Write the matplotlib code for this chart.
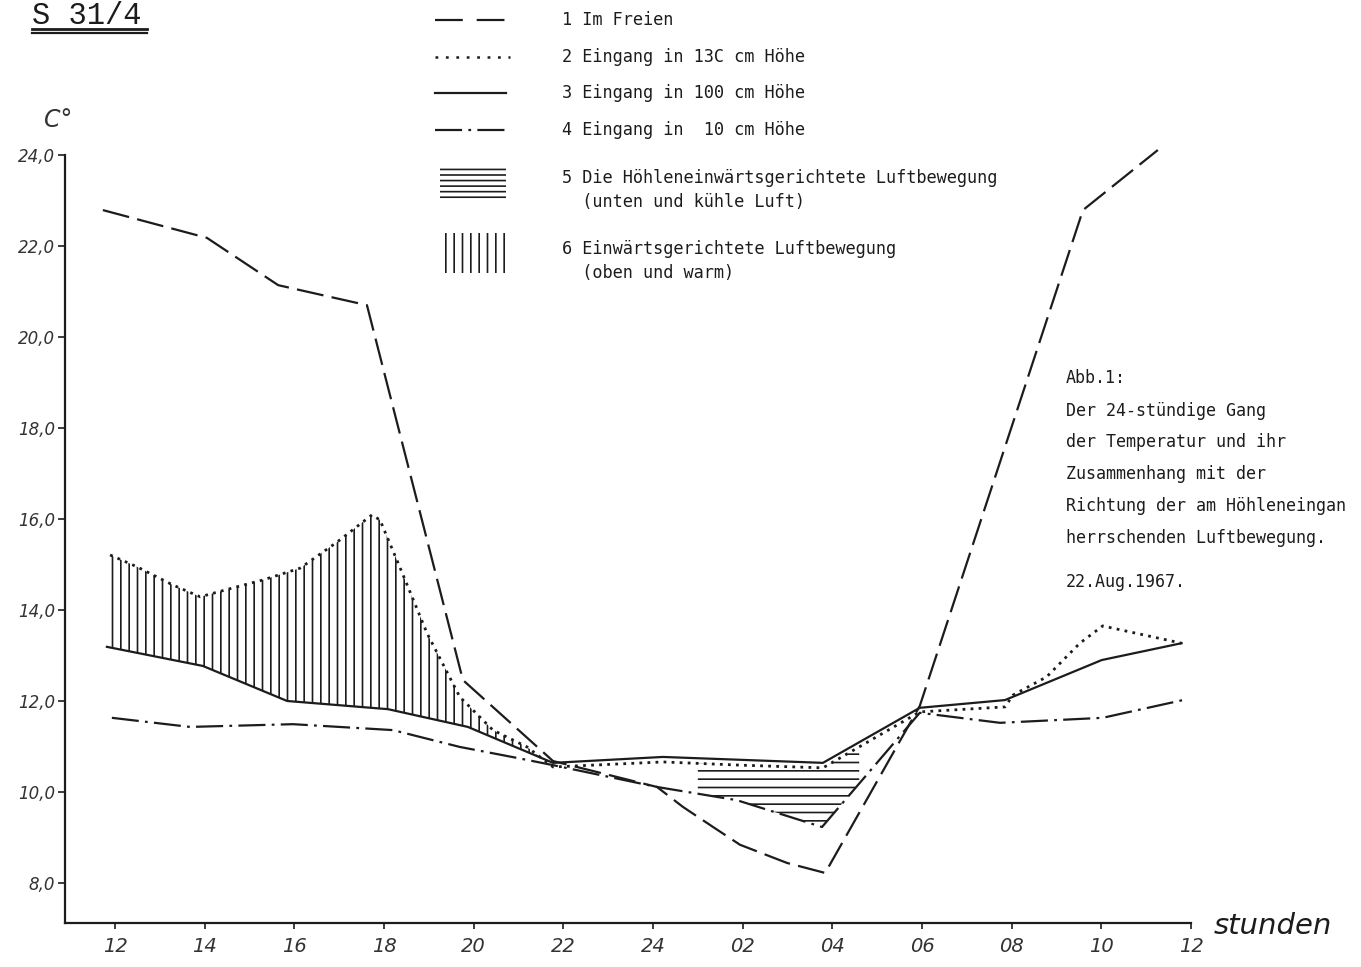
import numpy as np
import matplotlib
matplotlib.use("Agg")
import matplotlib.pyplot as plt
from matplotlib.patches import Rectangle

plt.rcParams['lines.scale_dashes'] = False
plt.rcParams['hatch.linewidth'] = 1.2

# ---------------- data (hours after 12:00 noon, temperature in °C) -------------
x_ticks_h = [0, 2, 4, 6, 8, 10, 12, 14, 16, 18, 20, 22, 24]
x_tick_labels = ["12", "14", "16", "18", "20", "22", "24", "02", "04", "06", "08", "10", "12"]
y_ticks = [8, 10, 12, 14, 16, 18, 20, 22, 24]
y_tick_labels = ["8,0", "10,0", "12,0", "14,0", "16,0", "18,0", "20,0", "22,0", "24,0"]

# 1 Im Freien
freien_h = [-0.27, 2.05, 3.64, 5.62, 7.76, 9.77, 12.09, 12.67, 13.34, 13.94, 14.99, 15.84, 17.95, 21.59, 23.26]
freien_t = [22.79, 22.18, 21.14, 20.70, 12.46, 10.68, 10.11, 9.67, 9.23, 8.84, 8.44, 8.22, 11.89, 22.79, 24.11]

# 2 Eingang in 130 cm Höhe
e130_h = [-0.11, 0.49, 1.29, 1.90, 2.72, 3.30, 4.13, 4.95, 5.73, 5.91, 6.35, 6.96, 7.69, 8.43, 9.19, 9.77,
          12.22, 13.94, 15.79, 17.95, 19.85, 20.03, 20.78, 21.52, 22.03, 22.63, 23.79]
e130_t = [15.21, 14.95, 14.55, 14.29, 14.51, 14.66, 14.92, 15.49, 16.09, 15.98, 14.95, 13.49, 12.09, 11.36, 10.99, 10.55,
          10.66, 10.59, 10.53, 11.76, 11.87, 12.13, 12.53, 13.27, 13.65, 13.52, 13.27]

# 3 Eingang in 100 cm Höhe
e100_h = [-0.18, 1.96, 3.84, 6.09, 7.87, 9.77, 12.22, 15.79, 17.95, 19.85, 22.01, 23.79]
e100_t = [13.19, 12.77, 12.00, 11.82, 11.43, 10.64, 10.77, 10.64, 11.85, 12.02, 12.90, 13.27]

# 4 Eingang in 10 cm Höhe
e10_h = [-0.07, 1.67, 3.97, 6.20, 7.69, 8.96, 9.77, 12.09, 13.87, 15.77, 17.95, 19.74, 22.03, 23.82]
e10_t = [11.63, 11.43, 11.49, 11.36, 10.99, 10.75, 10.59, 10.11, 9.82, 9.23, 11.74, 11.52, 11.63, 12.02]

# hatched periods (hours after noon)
warm_period = (-0.11, 9.77)   # 6: inward movement, upper and warm
cool_period = (13.0, 16.6)    # 5: inward movement, lower and cool

INK = '#1c1c1c'

fig = plt.figure(figsize=(13.61, 9.67), dpi=100)
fig.patch.set_facecolor('white')

# overlay for free text (pixel coordinates)
ax0 = fig.add_axes([0, 0, 1, 1])
ax0.set_xlim(0, 1361)
ax0.set_ylim(967, 0)
ax0.axis('off')
ax0.patch.set_alpha(0)

# main chart axes
L, R, T_, B = 65, 1191, 141.4, 923
ax = fig.add_axes([L / 1361, 1 - B / 967, (R - L) / 1361, (B - T_) / 967])
ax.patch.set_alpha(0)
ax.set_xlim(-1.115, 24)
ax.set_ylim(7.12, 24.3)

dash_long = (19.5, 6)
dash_dot = (19.5, 4.5, 2, 4.5)
dots = (2, 3.8)

ax.plot(freien_h, freien_t, color=INK, lw=1.6, dashes=dash_long, solid_capstyle='butt')
ax.plot(e130_h, e130_t, color=INK, lw=2.0, dashes=dots)
ax.plot(e100_h, e100_t, color=INK, lw=1.6)
ax.plot(e10_h, e10_t, color=INK, lw=1.6, dashes=dash_dot)

# hatched areas
xw = np.array(sorted(set([h for h in e130_h + e100_h if warm_period[0] <= h <= warm_period[1]])))
ax.fill_between(xw, np.interp(xw, e100_h, e100_t), np.interp(xw, e130_h, e130_t),
                facecolor='none', edgecolor=INK, linewidth=0, hatch='||')
xc = np.array(sorted(set([cool_period[0], cool_period[1]] +
                         [h for h in e130_h + e10_h if cool_period[0] <= h <= cool_period[1]])))
ax.fill_between(xc, np.interp(xc, e10_h, e10_t), np.interp(xc, e130_h, e130_t),
                facecolor='none', edgecolor=INK, linewidth=0, hatch='--')

# axes styling
for s in ['top', 'right']:
    ax.spines[s].set_visible(False)
ax.spines['left'].set_bounds(7.12, 24.0)
ax.spines['left'].set_linewidth(1.6)
ax.spines['bottom'].set_linewidth(1.6)
ax.spines['left'].set_color(INK)
ax.spines['bottom'].set_color(INK)
ax.set_xticks(x_ticks_h)
ax.set_xticklabels(x_tick_labels, fontsize=14, style='italic', color='#333333')
ax.set_yticks(y_ticks)
ax.set_yticklabels(y_tick_labels, fontsize=12, style='italic', color='#333333')
ax.tick_params(axis='x', length=4, width=1.2, pad=6, colors=INK, labelcolor='#333333')
ax.tick_params(axis='y', length=5, width=1.2, pad=2, colors=INK, labelcolor='#333333')

# free texts
ax0.text(32, 16, "S 31/4", fontsize=22, family='Liberation Mono', color=INK, va='center', ha='left')
ax0.plot([32, 147], [29, 29], color=INK, lw=2)
ax0.plot([32, 147], [33, 33], color=INK, lw=1.6)
ax0.text(58, 120, "C°", fontsize=17, style='italic', color='#333333', ha='center', va='center')
ax0.text(1214, 926, "stunden", fontsize=21, style='italic', color=INK, ha='left', va='center')

mono = 'DejaVu Sans Mono'
legend_lines = [
    (20, "1 Im Freien"),
    (57, "2 Eingang in 13C cm Höhe"),
    (93, "3 Eingang in 100 cm Höhe"),
    (130, "4 Eingang in  10 cm Höhe"),
    (178, "5 Die Höhleneinwärtsgerichtete Luftbewegung"),
    (202, "  (unten und kühle Luft)"),
    (249, "6 Einwärtsgerichtete Luftbewegung"),
    (273, "  (oben und warm)"),
]
for yy, s in legend_lines:
    ax0.text(562, yy, s, fontsize=12.2, family=mono, color=INK, va='center', ha='left')

ax0.plot([435, 512], [20, 20], color=INK, lw=1.6, dashes=(20, 10))
ax0.plot([435, 510], [57, 57], color=INK, lw=1.8, dashes=(2, 5.5))
ax0.plot([435, 506], [93, 93], color=INK, lw=1.6)
ax0.plot([435, 510], [130, 130], color=INK, lw=1.6, dashes=dash_dot)
ax0.add_patch(Rectangle((440, 167), 66, 34, facecolor='none', edgecolor=INK, lw=0, hatch='---'))
ax0.add_patch(Rectangle((440, 233), 70, 40, facecolor='none', edgecolor=INK, lw=0, hatch='||'))

caption = [
    (378, "Abb.1:"),
    (411, "Der 24-stündige Gang"),
    (442, "der Temperatur und ihr"),
    (474, "Zusammenhang mit der"),
    (506, "Richtung der am Höhleneingan"),
    (538, "herrschenden Luftbewegung."),
    (582, "22.Aug.1967."),
]
for yy, s in caption:
    ax0.text(1066, yy, s, fontsize=12, family=mono, color=INK, va='center', ha='left')

fig.savefig("out.png", dpi=100, facecolor='white')
